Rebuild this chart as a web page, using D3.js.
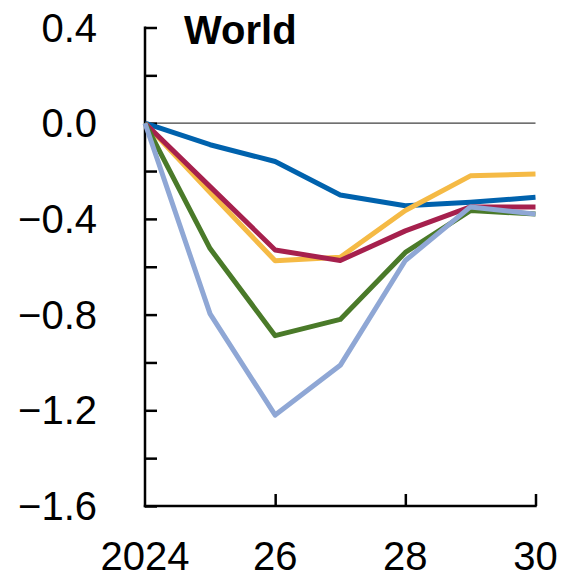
<!DOCTYPE html>
<html>
<head>
<meta charset="utf-8">
<script src="https://cdn.jsdelivr.net/npm/d3@7"></script>
<style>
  html, body { margin: 0; padding: 0; background: #fff; }
  svg { display: block; }
</style>
</head>
<body>
<script>
// Years on the horizontal axis
const years = [2024, 2025, 2026, 2027, 2028, 2029, 2030];

// Deviation paths (percent) for each scenario
const seriesBlue      = [0, -0.09, -0.16, -0.30, -0.345, -0.33, -0.31];
const seriesYellow    = [0, -0.29, -0.575, -0.56, -0.365, -0.22, -0.212];
const seriesRed       = [0, -0.265, -0.53, -0.574, -0.45, -0.35, -0.35];
const seriesGreen     = [0, -0.524, -0.888, -0.82, -0.54, -0.365, -0.38];
const seriesLightBlue = [0, -0.797, -1.22, -1.012, -0.574, -0.35, -0.38];

const yTickValues = [0.4, 0.0, -0.4, -0.8, -1.2, -1.6];
const yMinorTicks = [0.4, 0.2, 0.0, -0.2, -0.4, -0.6, -0.8, -1.0, -1.2, -1.4, -1.6];
const xTickValues = [2024, 2026, 2028, 2030];
const xTickLabels = ["2024", "26", "28", "30"];
const title = "World";

const series = [
  { values: seriesBlue,      color: "#0062AD" },
  { values: seriesYellow,    color: "#F5BA45" },
  { values: seriesRed,       color: "#A6204D" },
  { values: seriesGreen,     color: "#4A7A29" },
  { values: seriesLightBlue, color: "#8FA7D5" }
];

const W = 562, H = 579;
const svg = d3.select("body").append("svg").attr("width", W).attr("height", H);

const x = d3.scaleLinear().domain([2024, 2030]).range([145, 535.5]);
const y = d3.scaleLinear().domain([-1.6, 0.4]).range([506, 27.5]);

const font = "'Liberation Sans', Arial, sans-serif";

// Zero reference line
svg.append("line")
  .attr("x1", x(2024)).attr("x2", x(2030))
  .attr("y1", y(0)).attr("y2", y(0))
  .attr("stroke", "#404040").attr("stroke-width", 1.3);

// Y axis: ticks point inward, labels every 0.4
const yAxis = d3.axisRight(y).tickValues(yMinorTicks).tickSize(12).tickFormat("");
const gy = svg.append("g").attr("transform", `translate(${x(2024)},0)`).call(yAxis);
gy.select(".domain").remove();
gy.selectAll(".tick line").attr("stroke", "#000").attr("stroke-width", 2.5);
svg.append("line")
  .attr("x1", x(2024)).attr("x2", x(2024))
  .attr("y1", y(0.4) - 1).attr("y2", y(-1.6) + 1.2)
  .attr("stroke", "#000").attr("stroke-width", 2.5);

const fmtY = v => (v < 0 ? "\u2212" : "") + Math.abs(v).toFixed(1);
svg.append("g").selectAll("text").data(yTickValues).join("text")
  .attr("x", 97).attr("y", d => y(d))
  .attr("dy", "0.35em")
  .attr("text-anchor", "end")
  .attr("font-family", font).attr("font-size", 40)
  .attr("fill", "#000")
  .text(fmtY);

// X axis: ticks point upward
const xAxis = d3.axisTop(x).tickValues(xTickValues.slice(1)).tickSize(12).tickFormat("");
const gx = svg.append("g").attr("transform", `translate(0,${y(-1.6)})`).call(xAxis);
gx.select(".domain").remove();
gx.selectAll(".tick line").attr("stroke", "#000").attr("stroke-width", 2.5);
svg.append("line")
  .attr("x1", x(2024) - 1.2).attr("x2", x(2030) + 1.2)
  .attr("y1", y(-1.6)).attr("y2", y(-1.6))
  .attr("stroke", "#000").attr("stroke-width", 2.5);

svg.append("g").selectAll("text").data(xTickValues).join("text")
  .attr("x", d => x(d)).attr("y", 570)
  .attr("text-anchor", "middle")
  .attr("font-family", font).attr("font-size", 40)
  .attr("fill", "#000")
  .text((d, i) => xTickLabels[i]);

// Scenario lines
const line = d3.line().x((d, i) => x(years[i])).y(d => y(d));
svg.append("g").selectAll("path").data(series).join("path")
  .attr("d", d => line(d.values))
  .attr("fill", "none")
  .attr("stroke", d => d.color)
  .attr("stroke-width", 5)
  .attr("stroke-linejoin", "round")
  .attr("stroke-linecap", "butt");

// Panel title
svg.append("text")
  .attr("x", 184).attr("y", 44)
  .attr("font-family", font).attr("font-size", 40).attr("font-weight", "bold")
  .attr("fill", "#000")
  .text(title);
</script>
</body>
</html>
